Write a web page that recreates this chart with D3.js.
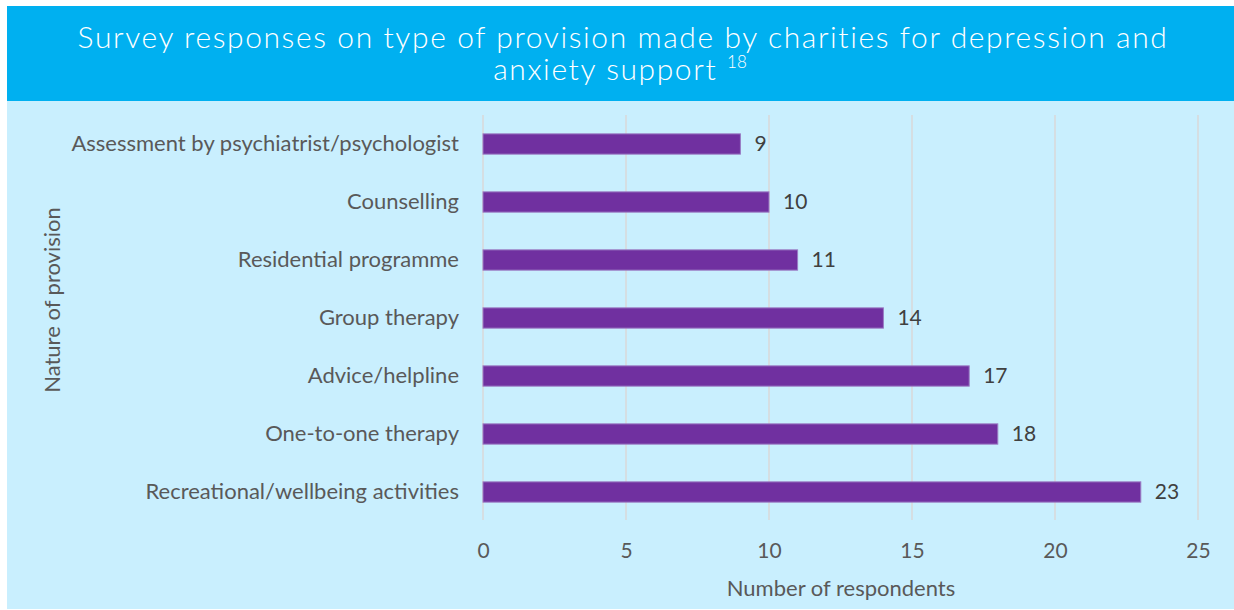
<!DOCTYPE html>
<html>
<head>
<meta charset="utf-8">
<script src="https://cdn.jsdelivr.net/npm/d3@7"></script>
<style>
  body { margin: 0; background: #ffffff; }
  svg { display: block; }
</style>
</head>
<body>
<div id="chart"></div>
<script>
// chart size
const width = 1234;
const height = 610;
const margin = {left: 483, right: 36, top: 115, bottom: 90};

// data
const categories = [
  "Assessment by psychiatrist/psychologist",
  "Counselling",
  "Residential programme",
  "Group therapy",
  "Advice/helpline",
  "One-to-one therapy",
  "Recreational/wellbeing activities"
];
const respondents = [9, 10, 11, 14, 17, 18, 23];
const xTicks = [0, 5, 10, 15, 20, 25];

const titleLines = ["Survey responses on type of provision made by charities for depression and", "anxiety support"];
const footnote = "18";

const svg = d3.select("#chart")
  .append("svg")
  .attr("width", width)
  .attr("height", height);

// backgrounds: blue banner and light blue panel
svg.append("rect")
  .attr("x", 7).attr("y", 101)
  .attr("width", width - 7).attr("height", 508)
  .attr("fill", "#c9effe");

svg.append("rect")
  .attr("x", 7).attr("y", 6)
  .attr("width", width - 7).attr("height", 95)
  .attr("fill", "#00b0f0");

// title, two lines plus the footnote number
const title = svg.append("text")
  .attr("text-anchor", "middle")
  .attr("fill", "#ffffff")
  .style("font-family", "Lato, 'Open Sans', sans-serif")
  .style("font-weight", 300)
  .style("font-size", "30px")
  .style("letter-spacing", "1.6px");

title.append("tspan").attr("x", 623).attr("y", 48).text(titleLines[0]);
title.append("tspan").attr("x", 620).attr("y", 80).text(titleLines[1] + " ");
title.append("tspan")
  .attr("dy", -12)
  .style("font-size", "17px")
  .style("letter-spacing", "0px")
  .text(footnote);

// scales
const xScale = d3.scaleLinear()
  .domain([0, 25])
  .range([margin.left, width - margin.right]);

const yScale = d3.scaleBand()
  .domain(categories)
  .range([margin.top, 521])
  .paddingInner(0.65)
  .paddingOuter(0.325);

// gridlines
svg.append("g")
  .selectAll("line")
  .data(xTicks)
  .enter()
  .append("line")
    .attr("x1", d => xScale(d))
    .attr("x2", d => xScale(d))
    .attr("y1", margin.top)
    .attr("y2", 520)
    .attr("stroke", "#d9d9d9")
    .attr("stroke-width", 1.5);

// x axis tick labels
const xAxis = svg.append("g")
  .attr("transform", `translate(0, 520)`)
  .call(d3.axisBottom(xScale).tickValues(xTicks).tickSize(0).tickPadding(23));
xAxis.select(".domain").remove();
xAxis.selectAll("text")
  .attr("fill", "#595959")
  .style("font-family", "Lato, sans-serif")
  .style("font-size", "21px");

// y axis category labels
const yAxis = svg.append("g")
  .attr("transform", `translate(${margin.left}, 0)`)
  .call(d3.axisLeft(yScale).tickSize(0).tickPadding(24));
yAxis.select(".domain").remove();
yAxis.selectAll("text")
  .attr("fill", "#595959")
  .style("font-family", "Lato, sans-serif")
  .style("font-size", "22px");

// bars
svg.selectAll(".bar")
  .data(respondents)
  .enter()
  .append("rect")
    .attr("class", "bar")
    .attr("x", xScale(0))
    .attr("y", (d, i) => yScale(categories[i]))
    .attr("width", d => xScale(d) - xScale(0))
    .attr("height", yScale.bandwidth())
    .attr("fill", "#7030a0")
    .attr("stroke", "#9a7cc4")
    .attr("stroke-width", 1);

// value labels
svg.selectAll(".value")
  .data(respondents)
  .enter()
  .append("text")
    .attr("class", "value")
    .attr("x", d => xScale(d) + 14)
    .attr("y", (d, i) => yScale(categories[i]) + yScale.bandwidth() / 2)
    .attr("dy", "0.35em")
    .attr("fill", "#404040")
    .style("font-family", "Lato, sans-serif")
    .style("font-size", "21px")
    .text(d => d);

// axis titles
svg.append("text")
  .attr("x", 841)
  .attr("y", 596)
  .attr("text-anchor", "middle")
  .attr("fill", "#595959")
  .style("font-family", "Lato, sans-serif")
  .style("font-size", "22px")
  .text("Number of respondents");

svg.append("text")
  .attr("transform", "translate(60, 300) rotate(-90)")
  .attr("text-anchor", "middle")
  .attr("fill", "#595959")
  .style("font-family", "Lato, sans-serif")
  .style("font-size", "22px")
  .text("Nature of provision");
</script>
</body>
</html>
